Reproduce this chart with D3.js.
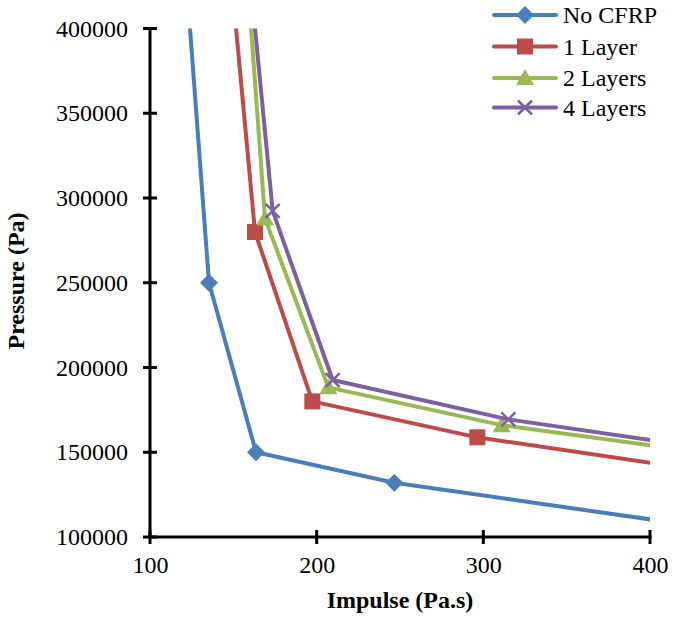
<!DOCTYPE html>
<html><head><meta charset="utf-8">
<script src="https://cdn.jsdelivr.net/npm/d3@7"></script>
<style>body{margin:0;background:#fff;} svg{display:block;}</style>
</head><body>
<script>
const seriesNames = ["No CFRP", "1 Layer", "2 Layers", "4 Layers"];
const seriesColors = ["#4A7EBB", "#BE4B48", "#98B954", "#7D60A0"];
const seriesMarkers = ["diamond", "square", "triangle", "cross"];
// impulse (Pa.s), pressure (Pa); first and last points lie outside the visible range
const noCfrpX = [120.2, 135.4, 163.6, 246.6, 500];
const noCfrpY = [450000, 250000, 150000, 132000, 96300];
const layer1X = [146.9, 163, 197.4, 296.4, 500];
const layer1Y = [450000, 280000, 180000, 158800, 129300];
const layer2X = [156.9, 169, 207, 311, 500];
const layer2Y = [450000, 287900, 188300, 166000, 140900];
const layer4X = [158.1, 173.6, 209.6, 315, 500];
const layer4Y = [450000, 292400, 192600, 169400, 142850];
const xTicks = [100, 200, 300, 400];
const yTicks = [100000, 150000, 200000, 250000, 300000, 350000, 400000];

const allX = [noCfrpX, layer1X, layer2X, layer4X];
const allY = [noCfrpY, layer1Y, layer2Y, layer4Y];

const W = 685, H = 620;
const L = 150, R = 650, T = 28.5, B = 537;
const svg = d3.select("body").append("svg").attr("width", W).attr("height", H);
const x = d3.scaleLinear().domain([100, 400]).range([L, R]);
const y = d3.scaleLinear().domain([100000, 400000]).range([B, T]);

svg.append("defs").append("clipPath").attr("id", "clip")
  .append("rect").attr("x", L).attr("y", T).attr("width", R - L).attr("height", B - T);

const font = "'Liberation Serif', 'Times New Roman', serif";

function markerPath(type) {
  if (type === "diamond") return "M0,-9L9,0L0,9L-9,0Z";
  if (type === "square") return "M-8,-8H8V8H-8Z";
  if (type === "triangle") return "M0,-9L9,7H-9Z";
  return "M-7,-7L7,7M-7,7L7,-7";
}
function drawMarker(g, type, color, px, py) {
  const p = g.append("path").attr("d", markerPath(type))
    .attr("transform", `translate(${px},${py})`);
  if (type === "cross") p.attr("fill", "none").attr("stroke", color).attr("stroke-width", 2.5);
  else p.attr("fill", color);
}

const plot = svg.append("g").attr("clip-path", "url(#clip)");
const line = d3.line().x(d => x(d[0])).y(d => y(d[1]));
seriesNames.forEach((name, i) => {
  const pts = allX[i].map((v, j) => [v, allY[i][j]]);
  plot.append("path").datum(pts).attr("d", line)
    .attr("fill", "none").attr("stroke", seriesColors[i]).attr("stroke-width", 4)
    .attr("stroke-linejoin", "round");
  pts.forEach(p => drawMarker(plot, seriesMarkers[i], seriesColors[i], x(p[0]), y(p[1])));
});

// axes
const yAxis = svg.append("g").attr("transform", `translate(${L},0)`)
  .call(d3.axisLeft(y).tickValues(yTicks).tickSize(0).tickFormat(d3.format("d")));
yAxis.select(".domain").remove();
yAxis.selectAll("text").attr("x", -22).attr("font-family", font).attr("font-size", 24).attr("fill", "#000");
yTicks.forEach(t => svg.append("line").attr("x1", L - 7).attr("x2", L + 7)
  .attr("y1", y(t)).attr("y2", y(t)).attr("stroke", "#000").attr("stroke-width", 3));

const xAxis = svg.append("g").attr("transform", `translate(0,${B})`)
  .call(d3.axisBottom(x).tickValues(xTicks).tickSize(0).tickFormat(d3.format("d")));
xAxis.select(".domain").remove();
xAxis.selectAll("text").attr("y", 19).attr("font-family", font).attr("font-size", 24).attr("fill", "#000");
xTicks.forEach(t => svg.append("line").attr("y1", B - 7).attr("y2", B + 7)
  .attr("x1", x(t)).attr("x2", x(t)).attr("stroke", "#000").attr("stroke-width", 3));

svg.append("line").attr("x1", L).attr("x2", L).attr("y1", T - 1.5).attr("y2", B + 1.5)
  .attr("stroke", "#000").attr("stroke-width", 3);
svg.append("line").attr("x1", L - 1.5).attr("x2", R + 1.5).attr("y1", B).attr("y2", B)
  .attr("stroke", "#000").attr("stroke-width", 3);

// axis titles
svg.append("text").attr("x", 400).attr("y", 608).attr("text-anchor", "middle")
  .attr("font-family", font).attr("font-weight", "bold").attr("font-size", 24).text("Impulse (Pa.s)");
svg.append("text").attr("transform", "translate(24,281) rotate(-90)").attr("text-anchor", "middle")
  .attr("font-family", font).attr("font-weight", "bold").attr("font-size", 24).text("Pressure (Pa)");

// legend
const legY = [15, 46.5, 78, 107.5];
seriesNames.forEach((name, i) => {
  const g = svg.append("g");
  g.append("line").attr("x1", 494).attr("x2", 556).attr("y1", legY[i]).attr("y2", legY[i])
    .attr("stroke", seriesColors[i]).attr("stroke-width", 4).attr("stroke-linecap", "round");
  drawMarker(g, seriesMarkers[i], seriesColors[i], 525, legY[i]);
  g.append("text").attr("x", 563).attr("y", legY[i]).attr("dy", "0.35em")
    .attr("font-family", font).attr("font-size", 24).text(name);
});
</script>
</body></html>
